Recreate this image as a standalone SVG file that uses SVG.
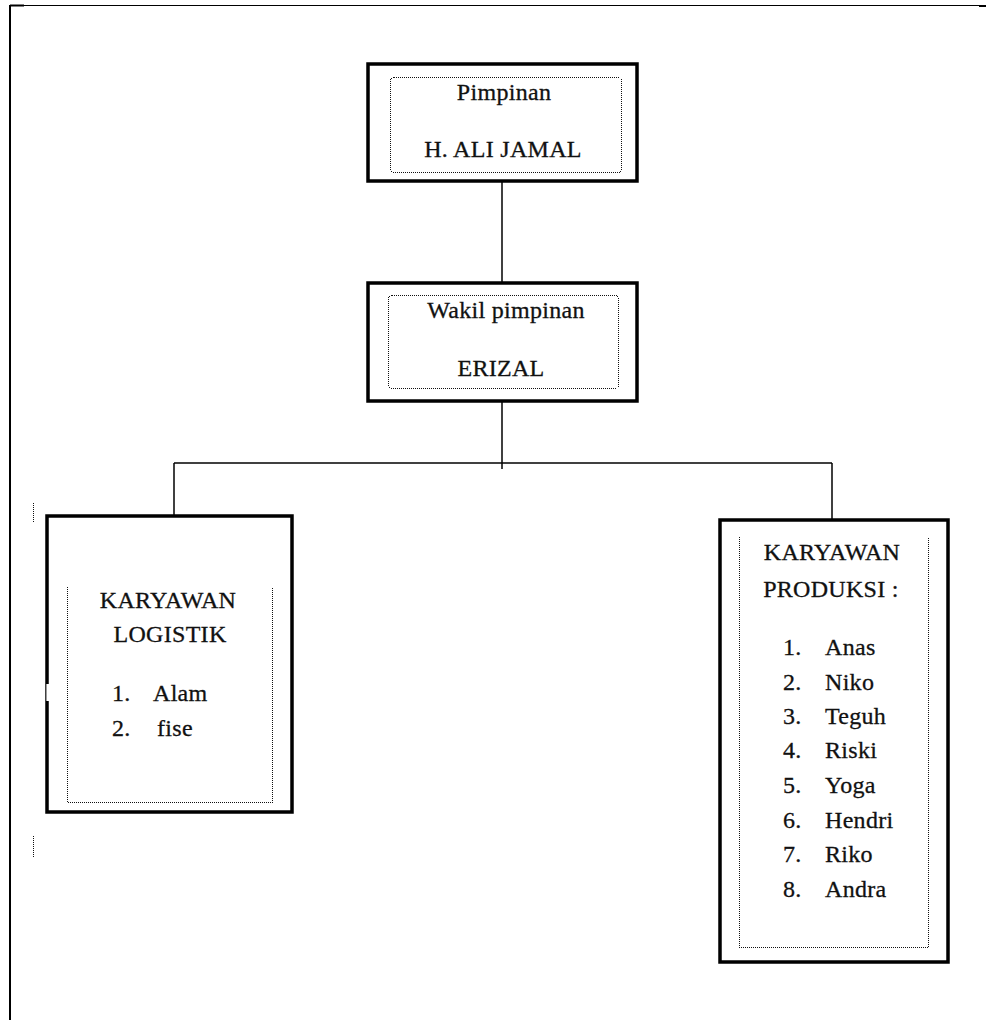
<svg xmlns="http://www.w3.org/2000/svg" width="986" height="1020" viewBox="0 0 986 1020">
<style>
.box{fill:#fff;stroke:#000;stroke-width:3.5}
.dot{fill:none;stroke:#111;stroke-width:1;stroke-dasharray:1 1;shape-rendering:crispEdges}
.conn{fill:none;stroke:#000;stroke-width:1.5}
text{font-family:"Liberation Serif","Times New Roman",serif;font-size:24px;fill:#111;stroke:#111;stroke-width:0.3;letter-spacing:0.3px}
.c{text-anchor:middle}
</style>
<rect width="986" height="1020" fill="#fff"/>
<g id="frame">
<line x1="10" y1="5.5" x2="986" y2="5.5" stroke="#000" stroke-width="1"/>
<line x1="10" y1="5.5" x2="24" y2="5.5" stroke="#000" stroke-width="2"/>
<line x1="979" y1="6" x2="986" y2="6" stroke="#000" stroke-width="2"/>
<line x1="10" y1="5" x2="10" y2="1020" stroke="#000" stroke-width="2"/>
<line x1="33.5" y1="503" x2="33.5" y2="522" class="dot"/>
<line x1="33.5" y1="836" x2="33.5" y2="858" class="dot"/>
</g>
<g id="connectors">
<line class="conn" x1="502" y1="181" x2="502" y2="283"/>
<line class="conn" x1="502" y1="401" x2="502" y2="469"/>
<line class="conn" x1="174" y1="463" x2="832" y2="463"/>
<line class="conn" x1="174" y1="463" x2="174" y2="521"/>
<line class="conn" x1="832" y1="463" x2="832" y2="519"/>
</g>
<g id="pimpinan">
<rect class="box" x="368" y="64" width="269" height="117"/>
<rect class="dot" x="390.5" y="77.5" width="231" height="95" rx="3"/>
<text class="c" x="504" y="100">Pimpinan</text>
<text class="c" x="503" y="157">H. ALI JAMAL</text>
</g>
<g id="wakil">
<rect class="box" x="368" y="283" width="269" height="118"/>
<rect class="dot" x="388.5" y="295.5" width="230" height="93" rx="3"/>
<text class="c" x="506" y="318">Wakil pimpinan</text>
<text class="c" x="501" y="376">ERIZAL</text>
</g>
<g id="logistik">
<rect class="box" x="47" y="516" width="245" height="296"/>
<rect x="46.4" y="684" width="2.6" height="17" fill="#fff"/>
<path class="dot" d="M67.5,587 V802.5 H272.5 V587"/>
<text class="c" x="168" y="608">KARYAWAN</text>
<text class="c" x="170" y="642">LOGISTIK</text>
<text x="112" y="701">1.</text>
<text x="153" y="701">Alam</text>
<text x="112" y="736">2.</text>
<text x="157" y="736">fise</text>
</g>
<g id="produksi">
<rect class="box" x="720" y="520" width="228" height="442"/>
<path class="dot" d="M739.5,537 V947.5 H928.5 V537"/>
<text class="c" x="832" y="560">KARYAWAN</text>
<text class="c" x="831" y="597">PRODUKSI :</text>
<text x="783" y="655">1.</text><text x="825" y="655">Anas</text>
<text x="783" y="690">2.</text><text x="825" y="690">Niko</text>
<text x="783" y="724">3.</text><text x="825" y="724">Teguh</text>
<text x="783" y="758">4.</text><text x="825" y="758">Riski</text>
<text x="783" y="793">5.</text><text x="825" y="793">Yoga</text>
<text x="783" y="828">6.</text><text x="825" y="828">Hendri</text>
<text x="783" y="862">7.</text><text x="825" y="862">Riko</text>
<text x="783" y="897">8.</text><text x="825" y="897">Andra</text>
</g>
</svg>
